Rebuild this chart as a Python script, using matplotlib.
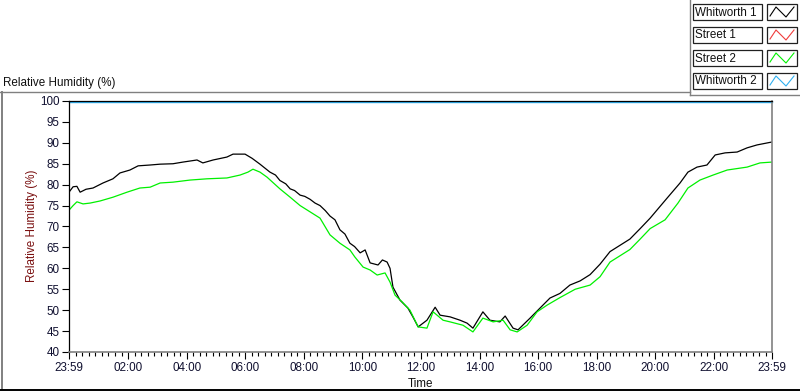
import numpy as np
import matplotlib
matplotlib.use("Agg")
import matplotlib.pyplot as plt
from matplotlib.lines import Line2D
from matplotlib.patches import Rectangle
import matplotlib.transforms as mtransforms

plt.rcParams['font.family'] = ['Liberation Sans', 'DejaVu Sans']

# hours since the 23:59 start
whit1_t = [0.00, 0.14, 0.27, 0.38, 0.58, 0.82, 1.16, 1.50, 1.74, 2.08, 2.36, 2.77, 3.11, 3.55,
           3.89, 4.37, 4.57, 4.92, 5.39, 5.60, 6.01, 6.25, 6.52, 6.86, 7.05, 7.20, 7.40, 7.55,
           7.70, 7.89, 8.05, 8.23, 8.40, 8.57, 8.75, 8.91, 9.08, 9.25, 9.42, 9.59, 9.75, 9.94,
           10.11, 10.28, 10.55, 10.70, 10.86, 10.96, 11.06, 11.30, 11.57,
           11.74, 11.92, 12.22, 12.50, 12.67, 13.01, 13.35, 13.59, 13.79, 14.13, 14.37, 14.71,
           14.89, 15.16, 15.33, 15.74, 16.08, 16.42, 16.76, 17.10, 17.45, 17.79, 18.13, 18.47,
           18.81, 19.15, 19.50, 19.84, 20.42, 20.86, 21.13, 21.44, 21.78, 22.06, 22.40, 22.81,
           23.15, 23.49, 24.00]
whit1_rh = [78.2, 79.5, 79.6, 78.2, 78.9, 79.2, 80.4, 81.4, 82.8, 83.5, 84.5, 84.7, 84.9, 85.0,
            85.4, 85.9, 85.2, 85.9, 86.6, 87.3, 87.3, 86.3, 84.9, 83.0, 82.3, 81.0, 80.2, 79.0,
            78.6, 77.5, 77.2, 76.5, 75.6, 75.0, 73.8, 72.5, 71.6, 69.2, 68.2, 66.0, 65.2, 63.7,
            64.4, 61.3, 60.8, 62.0, 61.5, 60.0, 55.5, 52.4, 50.5,
            48.4, 46.0, 47.6, 50.7, 48.8, 48.4, 47.6, 46.9, 45.7, 49.6, 47.6, 47.2,
            48.6, 45.7, 45.3, 48.1, 50.5, 52.9, 54.0, 56.0, 57.0, 58.5, 61.0, 64.0,
            65.5, 67.0, 69.5, 72.0, 76.8, 80.4, 83.0, 84.2, 84.7, 87.1, 87.6, 87.8,
            88.8, 89.5, 90.2]

street2_t = [0.00, 0.14, 0.27, 0.48, 0.72, 1.06, 1.50, 1.98, 2.42, 2.77, 3.11, 3.55, 4.13, 4.71,
             5.39, 5.84, 6.11, 6.28, 6.52, 6.76, 7.20, 7.55, 7.89, 8.23, 8.57, 8.91, 9.25, 9.59,
             9.76, 10.04, 10.28, 10.52, 10.79, 10.96, 11.13, 11.37, 11.64, 11.92, 12.22, 12.43,
             12.77, 13.01, 13.45, 13.79, 14.13, 14.48, 14.82, 15.06, 15.30, 15.64, 15.98, 16.32,
             16.76, 17.28, 17.79, 18.13, 18.47, 18.81, 19.15, 19.50, 19.84, 20.35, 20.79, 21.13,
             21.54, 21.99, 22.47, 23.15, 23.59, 24.00]
street2_rh = [73.9, 75.0, 75.9, 75.4, 75.6, 76.1, 77.0, 78.2, 79.2, 79.4, 80.4, 80.6, 81.1, 81.4,
              81.6, 82.3, 83.0, 83.7, 83.0, 81.8, 79.0, 77.0, 75.0, 73.5, 72.0, 68.0, 66.0, 64.4,
              62.7, 60.3, 59.6, 58.4, 58.9, 56.7, 53.6, 52.0, 50.0, 46.0, 45.7, 49.6,
              47.6, 47.2, 46.4, 44.8, 48.1, 47.2, 47.6, 45.3, 44.8, 46.4, 49.6, 51.2,
              53.0, 55.0, 56.0, 58.0, 61.5, 63.0, 64.5, 67.0, 69.5, 71.6, 75.6, 79.2,
              81.1, 82.3, 83.5, 84.2, 85.2, 85.4]

street1_t = []
street1_rh = []

whit2_t = [0.0, 24.0]
whit2_rh = [100.0, 100.0]

series_names = ["Whitworth 1", "Street 1", "Street 2", "Whitworth 2"]
series_colors = ["#000000", "#f03c3c", "#00f000", "#30b0f0"]

xtick_pos = [0.0] + [h + 1 / 60 for h in range(2, 23, 2)] + [24.0]
xtick_labels = ["23:59", "02:00", "04:00", "06:00", "08:00", "10:00", "12:00",
                "14:00", "16:00", "18:00", "20:00", "22:00", "23:59"]
ytick_pos = list(range(40, 101, 5))

FS = 8.4
W, H = 800, 392
fig = plt.figure(figsize=(W / 100, H / 100), dpi=100)


def fx(px):
    return px / W


def fy(py):
    return 1 - py / H


ax = fig.add_axes([fx(69), fy(352), fx(772 - 69), (352 - 101) / H])

ax.plot(whit1_t, whit1_rh, color=series_colors[0], lw=0.9)
ax.plot(street1_t, street1_rh, color=series_colors[1], lw=0.9)
ax.plot(street2_t, street2_rh, color=series_colors[2], lw=0.9)
off = mtransforms.offset_copy(ax.transData, fig=fig, x=0, y=-1.2, units='dots')
ax.plot(whit2_t, whit2_rh, color=series_colors[3], lw=1.0, transform=off, clip_on=False)

ax.set_xlim(0, 24)
ax.set_ylim(40, 100)
ax.set_xticks(xtick_pos)
ax.set_xticklabels(xtick_labels)
minors = []
for a, b in zip(xtick_pos[:-1], xtick_pos[1:]):
    minors += list(np.linspace(a, b, 10)[1:-1])
ax.set_xticks(minors, minor=True)
ax.set_yticks(ytick_pos)

ax.tick_params(axis='both', which='major', direction='out', length=5, width=0.8,
               labelsize=FS, labelcolor='#101030', pad=2)
ax.tick_params(axis='x', which='minor', direction='out', length=3, width=0.8)

for s in ['top', 'left']:
    ax.spines[s].set_color('black')
    ax.spines[s].set_linewidth(0.9)
for s in ['right', 'bottom']:
    ax.spines[s].set_color('#808080')
    ax.spines[s].set_linewidth(1.2)

fig.text(fx(32), fy(226), "Relative Humidity (%)", rotation=90, ha='center', va='center',
         fontsize=FS, color='#7a1010')
fig.text(fx(420), fy(384), "Time", ha='center', va='center', fontsize=FS, color='#101010')
fig.text(fx(3), fy(83), "Relative Humidity (%)", ha='left', va='center', fontsize=FS,
         color='#101010')


# panel frame lines
def fline(x0, y0, x1, y1, color, lw=1.0):
    fig.add_artist(Line2D([fx(x0), fx(x1)], [fy(y0), fy(y1)], color=color, lw=lw,
                          transform=fig.transFigure))


fline(0, 92, 690, 92, '#808080')
fline(690, 0, 690, 95, '#808080')
fline(690, 95, 800, 95, '#808080')
fline(1.5, 92, 1.5, 389, '#808080', 1.4)
fline(0, 389.5, 800, 389.5, '#000000', 1.4)

# legend
tops = [4, 27, 50, 73]
for name, col, t in zip(series_names, series_colors, tops):
    hgt = 16
    fig.add_artist(Rectangle((fx(693), fy(t + hgt)), fx(762 - 693), hgt / H, facecolor='white',
                             edgecolor='#202020', lw=0.9, transform=fig.transFigure))
    fig.text(fx(695), fy(t + hgt / 2 + 0.5), name, ha='left', va='center', fontsize=FS,
             color='#101010')
    fig.add_artist(Rectangle((fx(767), fy(t + hgt)), fx(797 - 767), hgt / H, facecolor='white',
                             edgecolor='#202020', lw=0.9, transform=fig.transFigure))
    zx = [770, 776, 786, 794]
    zy = [t + 12, t + 3, t + 13, t + 3]
    fig.add_artist(Line2D([fx(v) for v in zx], [fy(v) for v in zy], color=col, lw=0.8,
                          transform=fig.transFigure))

fig.savefig("out.png", dpi=100)
